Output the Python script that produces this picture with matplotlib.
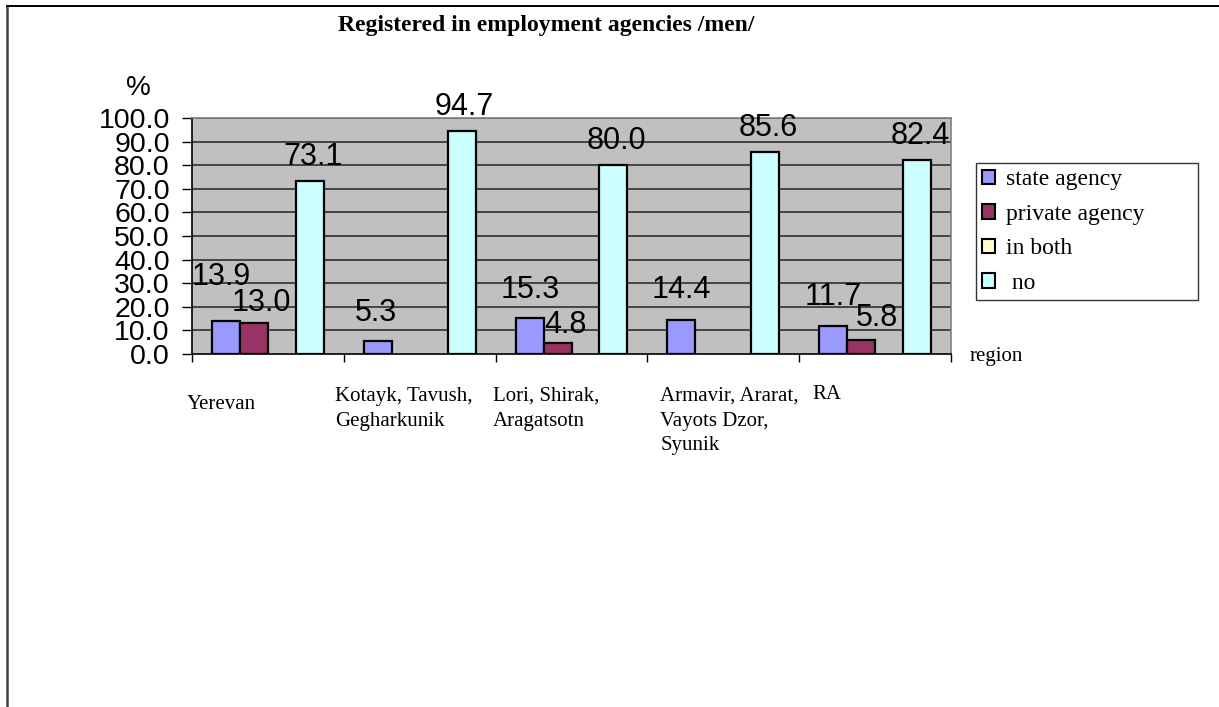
import numpy as np
import matplotlib
matplotlib.use("Agg")
import matplotlib.pyplot as plt
from matplotlib.lines import Line2D
from matplotlib.patches import Patch

# ---- data ----
regions = ["Yerevan", "Kotayk, Tavush,\nGegharkunik", "Lori, Shirak,\nAragatsotn",
           "Armavir, Ararat,\nVayots Dzor,\nSyunik", "RA"]
series_names = ["state agency", "private agency", "in both", " no"]
state_agency = [13.9, 5.3, 15.3, 14.4, 11.7]
private_agency = [13.0, np.nan, 4.8, np.nan, 5.8]
in_both = [np.nan, np.nan, np.nan, np.nan, np.nan]
no_agency = [73.1, 94.7, 80.0, 85.6, 82.4]
yticks = np.arange(0, 101, 10)

series = [state_agency, private_agency, in_both, no_agency]
colors = ["#9999FF", "#993366", "#FFFFCC", "#CCFFFF"]

# per-label nudges (pixels) for the value labels
label_nudge = {
    (0, 0): (-5, 20), (1, 0): (7, -4), (0, 1): (-2, 4), (0, 2): (1, 4),
    (1, 2): (8, -6), (0, 3): (0, 6), (0, 4): (0, 5), (1, 4): (16, -2),
}

W, H = 1219, 707
fig = plt.figure(figsize=(W / 100, H / 100), dpi=100)
fig.patch.set_facecolor("white")

ax_l, ax_r, ax_t, ax_b = 192, 951, 118, 354
ax = fig.add_axes([ax_l / W, 1 - ax_b / H, (ax_r - ax_l) / W, (ax_b - ax_t) / H])
ax.set_facecolor("#C0C0C0")
ax.set_xlim(0, len(regions))
ax.set_ylim(0, 100)

for y in yticks[1:]:
    ax.axhline(y, color="#3a3a3a", lw=1.3, zorder=1)

bw = 0.184
x = np.arange(len(regions))
for k, (vals, col) in enumerate(zip(series, colors)):
    pos = x + 0.5 + (k - 1.5) * bw
    ax.bar(pos, vals, width=bw, color=col, edgecolor="black", linewidth=1.6,
           zorder=3, label=series_names[k])
    for i, v in enumerate(vals):
        if np.isnan(v):
            continue
        dx, dy = label_nudge.get((k, i), (3, 0))
        ax.annotate(f"{v:.1f}", (pos[i], v), xytext=(dx, 24 + dy),
                    textcoords="offset pixels", ha="center", va="center",
                    fontsize=22, family="Liberation Sans", color="black",
                    zorder=5, annotation_clip=False)

ax.set_yticks(yticks)
ax.set_yticklabels([f"{t:.1f}" for t in yticks], family="Liberation Sans",
                   fontsize=20.5)
ax.tick_params(axis="y", direction="out", length=7, width=1, pad=9)
ax.set_xticks(np.arange(0, len(regions) + 1))
ax.set_xticklabels([])
ax.tick_params(axis="x", direction="out", length=6, width=1)
for s in ["left", "bottom"]:
    ax.spines[s].set_color("black")
    ax.spines[s].set_linewidth(1.2)
for s in ["top", "right"]:
    ax.spines[s].set_color("#808080")
    ax.spines[s].set_linewidth(1.2)

# category labels below the axis
cat_nudge = [(-5, 8), (-9, 0), (-3, 0), (13, 0), (13, -2)]
for i, name in enumerate(regions):
    dx, dy = cat_nudge[i]
    ax.annotate(name, (i, 0), xytext=(dx, -(33 + dy)), textcoords="offset pixels",
                ha="left", va="top", fontsize=15, family="Liberation Serif",
                linespacing=1.4, annotation_clip=False)

fig.text(970 / W, 1 - 357 / H, "region", fontsize=15, family="Liberation Serif",
         ha="left", va="center")
fig.text(138 / W, 1 - 88 / H, "%", fontsize=20, family="Liberation Sans",
         ha="center", va="center")
fig.text(546 / W, 1 - 26 / H, "Registered in employment agencies /men/",
         fontsize=17, family="Liberation Serif", weight="bold",
         ha="center", va="center")

handles = [Patch(facecolor=c, edgecolor="black", linewidth=1.5) for c in colors]
leg = fig.legend(handles, series_names, loc="upper left",
                 bbox_to_anchor=(976 / W, 1 - 163 / H, (1198 - 976) / W, 0),
                 mode="expand", ncols=1, frameon=True, fancybox=False,
                 prop={"family": "Liberation Serif", "size": 17},
                 handlelength=0.55, handleheight=0.55, handletextpad=0.45,
                 labelspacing=0.57, borderpad=0.27, borderaxespad=0)
leg.get_frame().set_edgecolor("black")
leg.get_frame().set_linewidth(1.0)

# outer frame
fig.add_artist(Line2D([7 / W, 7 / W], [0, 1 - 6 / H], color="#404040", lw=1.8,
                      transform=fig.transFigure))
fig.add_artist(Line2D([7 / W, 1], [1 - 6 / H, 1 - 6 / H], color="black", lw=1.4,
                      transform=fig.transFigure))

fig.savefig("out.png", dpi=100)
